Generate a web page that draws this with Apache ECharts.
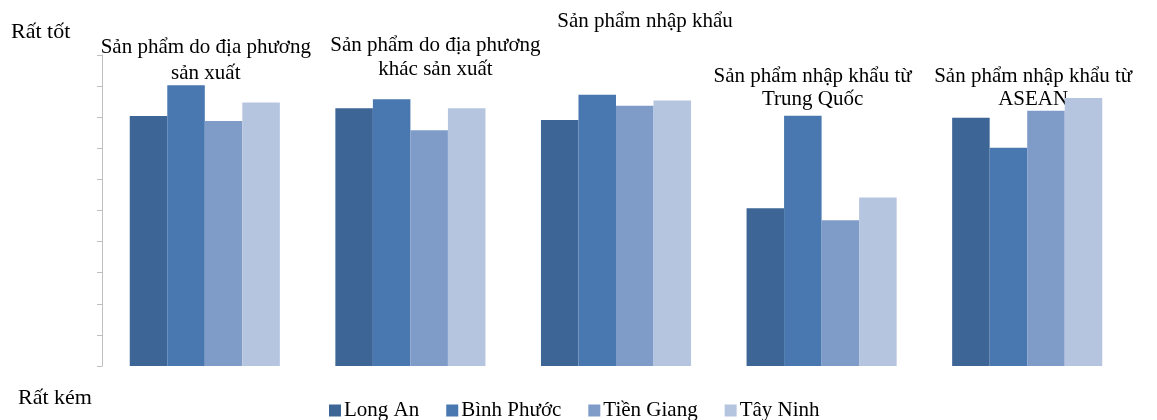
<!DOCTYPE html>
<html>
<head>
<meta charset="utf-8">
<script src="https://cdn.jsdelivr.net/npm/echarts@6/dist/echarts.min.js"></script>
<style>
  html, body { margin: 0; padding: 0; background: #fff; }
  #chart { width: 1157px; height: 420px; }
</style>
</head>
<body>
<div id="chart"></div>
<script>
// Product groups (x categories) and their two-line captions
const categories = ['SP địa phương', 'SP địa phương khác', 'SP nhập khẩu', 'NK Trung Quốc', 'NK ASEAN'];
const captions = [
  ['Sản phẩm do địa phương', 'sản xuất'],
  ['Sản phẩm do địa phương', 'khác sản xuất'],
  ['Sản phẩm nhập khẩu'],
  ['Sản phẩm nhập khẩu từ', 'Trung Quốc'],
  ['Sản phẩm nhập khẩu từ', 'ASEAN']
];

// Province names (series)
const provinces = ['Long An', 'Bình Phước', 'Tiền Giang', 'Tây Ninh'];

// Ratings on a 0 (Rất kém) .. 10 (Rất tốt) scale
const longAn    = [8.04, 8.29, 7.91, 5.07, 7.98];
const binhPhuoc = [9.03, 8.58, 8.72, 8.05, 7.02];
const tienGiang = [7.88, 7.58, 8.37, 4.69, 8.21];
const tayNinh   = [8.47, 8.29, 8.54, 5.42, 8.62];

const scaleTop = 'Rất tốt';
const scaleBottom = 'Rất kém';

const colors = ['#3d6596', '#4977b0', '#7f9bc8', '#b5c4df'];
const seriesValues = [longAn, binhPhuoc, tienGiang, tayNinh];

// caption placement: horizontal shift from the group centre, first line centre y, line spacing
const captionShift = [1, 25, 29, -9, 6];
const captionTopY  = [47, 45, 21, 76, 76];
const captionLineH = [26, 24, 0, 23, 23];

const FONT = '"Liberation Serif", "DejaVu Serif", serif';

const chart = echarts.init(document.getElementById('chart'), null, { renderer: 'canvas' });

const option = {
  animation: false,
  color: colors,
  grid: { left: 102, right: 27, top: 55, bottom: 54, containLabel: false },
  xAxis: {
    type: 'category',
    data: categories,
    axisLine: { show: false },
    axisTick: { show: false },
    axisLabel: { show: false }
  },
  yAxis: {
    type: 'value',
    min: 0, max: 10, interval: 1,
    axisLine: { show: true, lineStyle: { color: '#bfbfbf', width: 1 } },
    axisTick: { show: true, inside: false, length: 5, lineStyle: { color: '#bfbfbf' } },
    axisLabel: { show: false },
    splitLine: { show: false }
  },
  legend: {
    data: provinces,
    top: 400,
    left: 329,
    padding: 0,
    itemWidth: 12,
    itemHeight: 12,
    itemGap: 27,
    icon: 'rect',
    textStyle: { fontFamily: FONT, fontSize: 21, color: '#000', padding: [0, 0, 0, -2] }
  },
  series: provinces.map((name, i) => ({
    name: name,
    type: 'bar',
    data: seriesValues[i],
    barGap: '0%',
    barCategoryGap: '27%',
    itemStyle: { color: colors[i] }
  }))
};

chart.setOption(option);

// Captions above each group, plus the scale end labels
const texts = [];
captions.forEach((lines, c) => {
  const cx = chart.convertToPixel({ xAxisIndex: 0 }, categories[c]) + captionShift[c];
  lines.forEach((line, k) => {
    texts.push({
      type: 'text',
      x: cx,
      y: captionTopY[c] + k * captionLineH[c],
      style: {
        text: line,
        fill: '#000',
        font: '21px ' + FONT,
        textAlign: 'center',
        textVerticalAlign: 'middle'
      }
    });
  });
});
texts.push({
  type: 'text', left: 11, top: 21,
  style: { text: scaleTop, fill: '#000', font: '22px ' + FONT }
});
texts.push({
  type: 'text', left: 18, top: 387,
  style: { text: scaleBottom, fill: '#000', font: '22px ' + FONT }
});
chart.setOption({ graphic: texts });
</script>
</body>
</html>
